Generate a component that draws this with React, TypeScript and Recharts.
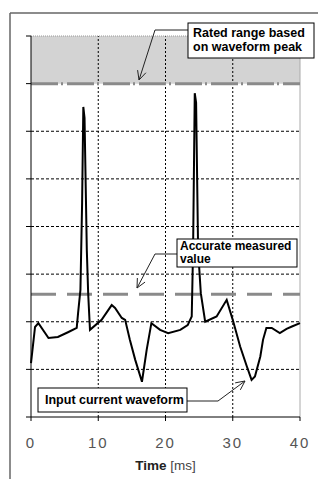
import React from 'react';
import {
  LineChart, Line, XAxis, YAxis, CartesianGrid, ReferenceLine, ReferenceArea,
} from 'recharts';

const timeMs = [0, 0.6, 1.1, 2.6, 4.0, 5.5, 6.8, 7.0, 7.35, 7.6, 7.78, 7.96, 8.3, 8.5, 8.77, 10.5, 12.0, 12.5, 13.5, 14.0, 14.7, 15.5, 16.5, 17.2, 17.9, 19.2, 20.4, 22.2, 23.3, 23.9, 24.1, 24.35, 24.55, 24.85, 25.25, 25.9, 27.6, 29.1, 30.0, 31.1, 32.1, 32.8, 33.3, 34.1, 34.5, 35.0, 35.8, 37.0, 38.0, 38.8, 40];
const current = [1.13, 1.89, 1.97, 1.66, 1.68, 1.78, 1.87, 2.18, 2.67, 4.5, 6.51, 6.28, 3.5, 2.6, 1.83, 2.04, 2.35, 2.29, 2.08, 2.04, 1.62, 1.2, 0.74, 1.41, 1.97, 1.83, 1.76, 1.83, 1.93, 2.11, 3.5, 6.8, 6.6, 3.5, 2.6, 2.0, 2.11, 2.46, 2.04, 1.48, 1.06, 0.78, 0.85, 1.27, 1.62, 1.87, 1.87, 1.76, 1.85, 1.9, 1.97];

const xTicks = [0, 10, 20, 30, 40];
const yTicks = [0, 1, 2, 3, 4, 5, 6, 7, 8];
const gridY = [1, 2, 3, 4, 5, 6];
const gridX = [10, 20, 30];
const ratedRange = 7;
const rangeTop = 8;
const accurateValue = 2.58;

const labelRated = ['Rated range based', 'on waveform peak'];
const labelAccurate = ['Accurate measured', 'value'];
const labelInput = 'Input current waveform';

const data = timeMs.map((t, i) => ({ t, v: current[i] }));

const FONT = '"Liberation Sans", Arial, sans-serif';

function Arrow({ fx, fy, tx, ty, hx, hy }: { fx: number; fy: number; tx: number; ty: number; hx: number; hy: number }) {
  const a = Math.atan2(fy - ty, fx - tx);
  const L = 10;
  const b1x = tx + L * Math.cos(a + 0.45);
  const b1y = ty + L * Math.sin(a + 0.45);
  const b2x = tx + L * Math.cos(a - 0.45);
  const b2y = ty + L * Math.sin(a - 0.45);
  return (
    <g stroke="#222" strokeWidth={1} fill="none">
      <polyline points={`${hx},${hy} ${fx},${fy} ${tx},${ty}`} />
      <line x1={tx} y1={ty} x2={b1x} y2={b1y} />
      <line x1={tx} y1={ty} x2={b2x} y2={b2y} />
    </g>
  );
}

function Overlay() {
  const txt = { fontFamily: FONT, fontWeight: 700, fontSize: 12.5, fill: '#000' } as const;
  const txt2 = { ...txt, fontSize: 12 } as const;
  return (
    <svg width={318} height={479} style={{ position: 'absolute', left: 0, top: 0, pointerEvents: 'none' }}>
      <line x1={10} y1={13} x2={318} y2={13} stroke="#666" strokeWidth={1.5} />
      <line x1={10} y1={13} x2={10} y2={479} stroke="#666" strokeWidth={1.5} />

      <Arrow hx={188} hy={30} fx={155} fy={30} tx={139} ty={80} />
      <rect x={188} y={23} width={126} height={35} fill="#fff" stroke="#000" strokeWidth={1} />
      <text x={193} y={37} {...txt}>{labelRated[0]}</text>
      <text x={193} y={51} {...txt}>{labelRated[1]}</text>

      <Arrow hx={177} hy={254} fx={155} fy={254} tx={137} ty={288} />
      <rect x={177} y={239} width={120} height={28} fill="#fff" stroke="#000" strokeWidth={1} />
      <text x={180} y={250} {...txt2}>{labelAccurate[0]}</text>
      <text x={180} y={263} {...txt2}>{labelAccurate[1]}</text>

      <Arrow hx={187} hy={401} fx={218} fy={401} tx={245} ty={381} />
      <rect x={38} y={388} width={149} height={24} fill="#fff" stroke="#000" strokeWidth={1} />
      <text x={45} y={404} {...txt}>{labelInput}</text>
    </svg>
  );
}

function TimeLabel(props: any) {
  const vb = props.viewBox || { x: 31, y: 417, width: 269 };
  const cx = vb.x + vb.width / 2;
  return (
    <text x={cx} y={vb.y + 53} textAnchor="middle" fontFamily={FONT} fontSize={13.5} fill="#222">
      <tspan fontWeight={700}>Time </tspan>
      <tspan fontWeight={400} fill="#444">[ms]</tspan>
    </text>
  );
}

export default function App() {
  return (
    <div style={{ position: 'absolute', left: 0, top: 0, width: 318, height: 479, background: '#fff' }}>
      <LineChart width={318} height={479} data={data} margin={{ top: 36, right: 18, bottom: 12, left: 1 }}>
        <ReferenceArea y1={ratedRange} y2={rangeTop} fill="#d3d3d3" fillOpacity={1} stroke="none" ifOverflow="visible" />
        <CartesianGrid
          stroke="#000"
          strokeDasharray="3 2"
          horizontalValues={gridY}
          vertical={false}
        />
        <XAxis
          dataKey="t"
          type="number"
          domain={[0, 40]}
          ticks={xTicks}
          height={50}
          tickSize={4}
          tickMargin={16}
          axisLine={{ stroke: '#000' }}
          tickLine={{ stroke: '#000' }}
          tick={{ fontSize: 15, fill: '#555', fontFamily: FONT, letterSpacing: 2 }}
          label={{ content: (p: any) => <TimeLabel {...p} /> }}
        />
        <YAxis
          type="number"
          domain={[0, 8]}
          ticks={yTicks}
          width={30}
          tickSize={5}
          tickFormatter={() => ''}
          axisLine={{ stroke: '#000' }}
          tickLine={{ stroke: '#000' }}
        />
        {gridX.map((x) => (
          <ReferenceLine key={x} x={x} stroke="#000" strokeDasharray="2 2" />
        ))}
        <ReferenceLine y={rangeTop} stroke="#999" strokeDasharray="1 1" />
        <ReferenceLine x={40} stroke="#aaa" />
        <ReferenceLine y={ratedRange} stroke="#8a8a8a" strokeWidth={3} strokeDasharray="27 3 2 4" />
        <ReferenceLine y={accurateValue} stroke="#8a8a8a" strokeWidth={3} strokeDasharray="25 11" />
        <Line type="linear" dataKey="v" stroke="#000" strokeWidth={2} dot={false} isAnimationActive={false} />
      </LineChart>
      <Overlay />
    </div>
  );
}
